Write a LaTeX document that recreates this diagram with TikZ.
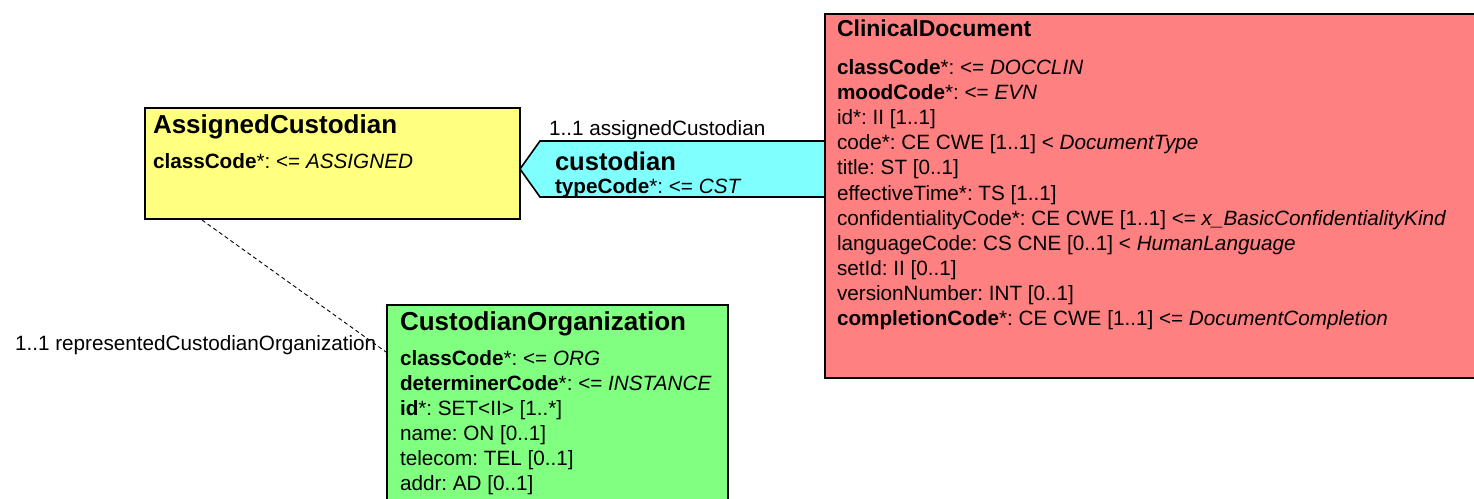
\documentclass[tikz,border=0pt]{standalone}
\usepackage{fontspec}
\setmainfont{Liberation Sans}
\frenchspacing
\definecolor{cdred}{RGB}{255,128,128}
\definecolor{acyellow}{RGB}{255,255,128}
\definecolor{relcyan}{RGB}{128,255,255}
\definecolor{orggreen}{RGB}{128,255,128}
\begin{document}
\frenchspacing
\begin{tikzpicture}[x=1pt,y=-1pt,
  every node/.style={inner sep=0pt,outer sep=0pt},
  umlbox/.style={draw=black,line width=1.6pt,anchor=north west},
  txt/.style={anchor=base west,font=\fontsize{20.7pt}{25pt}\selectfont},
  ttl/.style={anchor=base west,font=\fontsize{26pt}{30pt}\selectfont\bfseries},
  dashline/.style={draw=black,line width=0.9pt,dash pattern=on 4pt off 3pt}]
\path[use as bounding box,clip] (0,0) rectangle (1474,498);

% AssignedCustodian
\node[umlbox,fill=acyellow,minimum width=375pt,minimum height=111pt] (ac) at (145,108) {};
\node[ttl] (actitle) at (153,133) {AssignedCustodian};
\node[txt] (ac1) at (153,168.5) {\textbf{classCode}*: <= \textit{ASSIGNED}};

% custodian relationship
\coordinate (c1) at (520,169);
\coordinate (c2) at (540,141);
\coordinate (c3) at (830,141);
\coordinate (c4) at (830,197);
\coordinate (c5) at (540,197);
\draw[line width=1.6pt,fill=relcyan,line join=miter] (c1) -- (c2) -- (c3) -- (c4) -- (c5) -- cycle;
\node[txt,font=\fontsize{25.6pt}{30pt}\selectfont\bfseries] (cust) at (555,170) {custodian};
\node[txt] (cust1) at (555,193) {\textbf{typeCode}*: <= \textit{CST}};
\node[txt] (lab1) at (549,135.5) {1..1 assignedCustodian};

% ClinicalDocument
\node[umlbox,fill=cdred,minimum width=700pt,minimum height=364pt] (cd) at (825,14) {};
\node[ttl,font=\fontsize{23pt}{28pt}\selectfont\bfseries] (cdtitle) at (837,36) {ClinicalDocument};
\node[txt] (cd1) at (837,74.5) {\textbf{classCode}*: <= \textit{DOCCLIN}};
\node[txt] (cd2) at (837,99.6) {\textbf{moodCode}*: <= \textit{EVN}};
\node[txt] (cd3) at (837,124.7) {id*: II [1..1]};
\node[txt] (cd4) at (837,149.8) {code*: CE CWE [1..1] < \textit{DocumentType}};
\node[txt] (cd5) at (837,174.9) {title: ST [0..1]};
\node[txt] (cd6) at (837,200) {effectiveTime*: TS [1..1]};
\node[txt] (cd7) at (837,225.1) {confidentialityCode*: CE CWE [1..1] <= \textit{x\_BasicConfidentialityKind}};
\node[txt] (cd8) at (837,250.2) {languageCode: CS CNE [0..1] < \textit{HumanLanguage}};
\node[txt] (cd9) at (837,275.3) {setId: II [0..1]};
\node[txt] (cd10) at (837,300.4) {versionNumber: INT [0..1]};
\node[txt] (cd11) at (837,325.5) {\textbf{completionCode}*: CE CWE [1..1] <= \textit{DocumentCompletion}};

% CustodianOrganization
\node[umlbox,fill=orggreen,minimum width=341pt,minimum height=230pt] (co) at (387,305) {};
\node[ttl] (cotitle) at (400,330) {CustodianOrganization};
\node[txt] (co1) at (400,365.5) {\textbf{classCode}*: <= \textit{ORG}};
\node[txt] (co2) at (400,390.5) {\textbf{determinerCode}*: <= \textit{INSTANCE}};
\node[txt] (co3) at (400,415.5) {\textbf{id}*: SET<II> [1..*]};
\node[txt] (co4) at (400,440.5) {name: ON [0..1]};
\node[txt] (co5) at (400,465.5) {telecom: TEL [0..1]};
\node[txt] (co6) at (400,490.5) {addr: AD [0..1]};

% dashed association
\coordinate (d1) at (202,220);
\coordinate (d2) at (386,352);
\draw[dashline] (d1) -- (d2);
\node[txt] (lab2) at (15,350) {1..1 representedCustodianOrganization};
\end{tikzpicture}
\end{document}
